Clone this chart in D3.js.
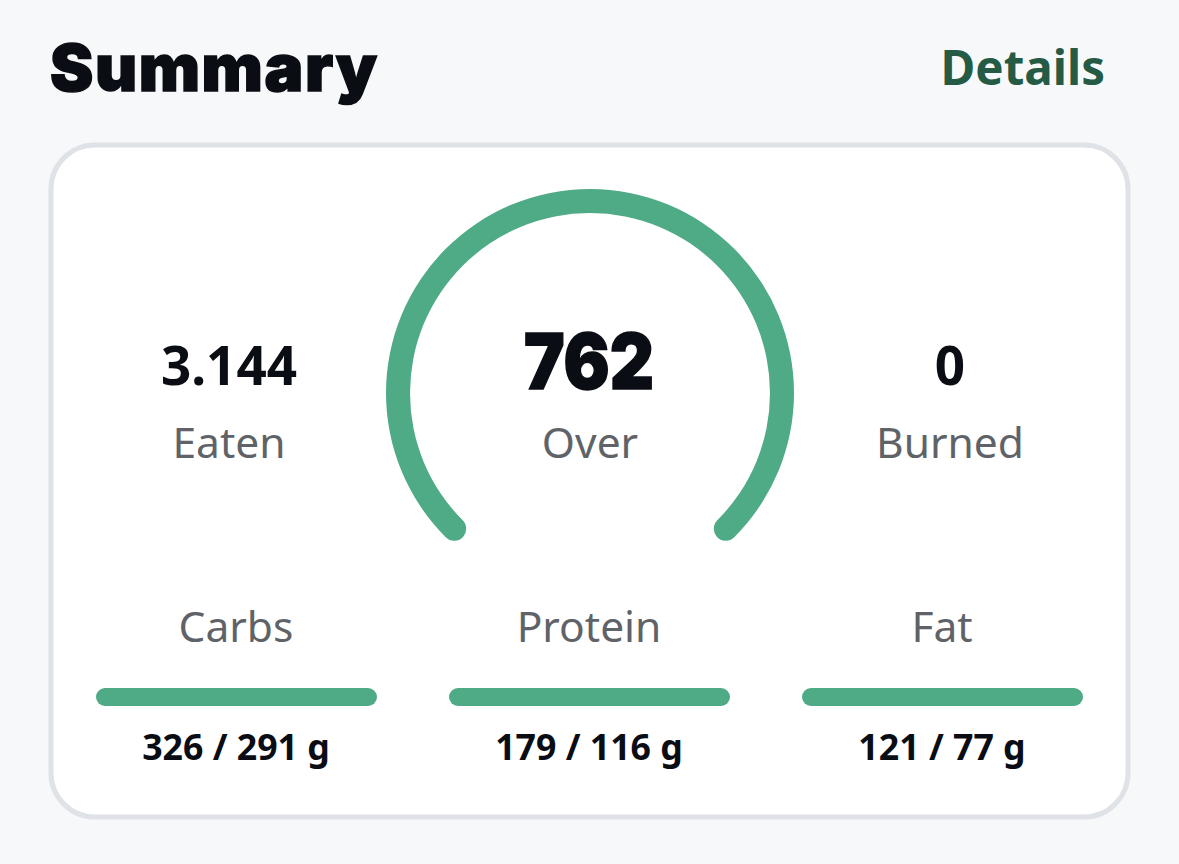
<!DOCTYPE html>
<html><head><meta charset="utf-8">
<script src="https://cdn.jsdelivr.net/npm/d3@7"></script>
<style>html,body{margin:0;padding:0;background:#f7f8fa;}svg{display:block}text{font-family:"Noto Sans",sans-serif}text.heavy{font-family:Inter,"Noto Sans",sans-serif}</style>
</head><body><svg id="c" width="1179" height="864"></svg>
<script>
const title = "Summary", linkLabel = "Details";
const gaugeValue = 762, gaugeLabel = "Over", gaugeFraction = 1;
const sideLabels = ["Eaten", "Burned"], sideValues = ["3.144", "0"];
const macros = ["Carbs", "Protein", "Fat"];
const macroEaten = [326, 179, 121], macroGoal = [291, 116, 77];
const green = "#4fab86", grey = "#5f6368", ink = "#0a0d14";
const svg = d3.select("#c");
svg.append("rect").attr("width",1179).attr("height",864).attr("fill","#f7f8fa");
svg.append("text").attr("class","heavy").attr("x",50).attr("y",91).attr("font-size",65).attr("font-weight",900).attr("fill",ink)
  .attr("stroke",ink).attr("stroke-width",1.5).attr("textLength",327).attr("lengthAdjust","spacing").text(title);
svg.append("text").attr("x",1105).attr("y",84.5).attr("text-anchor","end").attr("font-size",47.5).attr("font-weight",700).attr("fill","#255a45").text(linkLabel);
svg.append("rect").attr("x",51).attr("y",145).attr("width",1077).attr("height",672).attr("rx",44).attr("fill","#fff").attr("stroke","#dfe2e7").attr("stroke-width",5);
// gauge
const capAngle = 12/192;
const scale = d3.scaleLinear().domain([0,1]).range([-0.75*Math.PI-capAngle,0.75*Math.PI+capAngle]);
const g = svg.append("g").attr("transform","translate(590,393)");
g.append("path").attr("d",d3.arc().innerRadius(180).outerRadius(204).cornerRadius(12).startAngle(scale(0)).endAngle(scale(gaugeFraction))()).attr("fill",green);
svg.append("text").attr("class","heavy").attr("x",589).attr("y",388.5).attr("text-anchor","middle").attr("font-size",77).attr("font-weight",900).attr("fill",ink).attr("stroke",ink).attr("stroke-width",1.5).attr("textLength",130).attr("lengthAdjust","spacingAndGlyphs").text(gaugeValue);
svg.append("text").attr("x",590).attr("y",458).attr("text-anchor","middle").attr("font-size",42.5).attr("fill",grey).text(gaugeLabel);
const sideX = d3.scaleOrdinal().domain(sideLabels).range([229,950]);
sideLabels.forEach((l,i)=>{
  svg.append("text").attr("x",sideX(l)).attr("y",385).attr("text-anchor","middle").attr("font-size",53).attr("font-weight",700).attr("fill",ink).text(sideValues[i]);
  svg.append("text").attr("x",sideX(l)).attr("y",458).attr("text-anchor","middle").attr("font-size",42.5).attr("fill",grey).text(l);
});
const x = d3.scaleBand().domain(macros).range([96,1083]).paddingInner(72/353).paddingOuter(0);
const w = d3.scaleLinear().domain([0,1]).range([0,x.bandwidth()]).clamp(true);
macros.forEach((m,i)=>{
  const cx = x(m)+x.bandwidth()/2;
  svg.append("text").attr("x",cx-0.5).attr("y",642).attr("text-anchor","middle").attr("font-size",42.5).attr("fill",grey).text(m);
  svg.append("rect").attr("x",x(m)).attr("y",688).attr("width",w(macroEaten[i]/macroGoal[i])).attr("height",18).attr("rx",9).attr("fill",green);
  svg.append("text").attr("x",cx-0.5).attr("y",760).attr("text-anchor","middle").attr("font-size",35.7).attr("font-weight",700).attr("fill",ink).text(`${macroEaten[i]} / ${macroGoal[i]} g`);
});
</script></body></html>
